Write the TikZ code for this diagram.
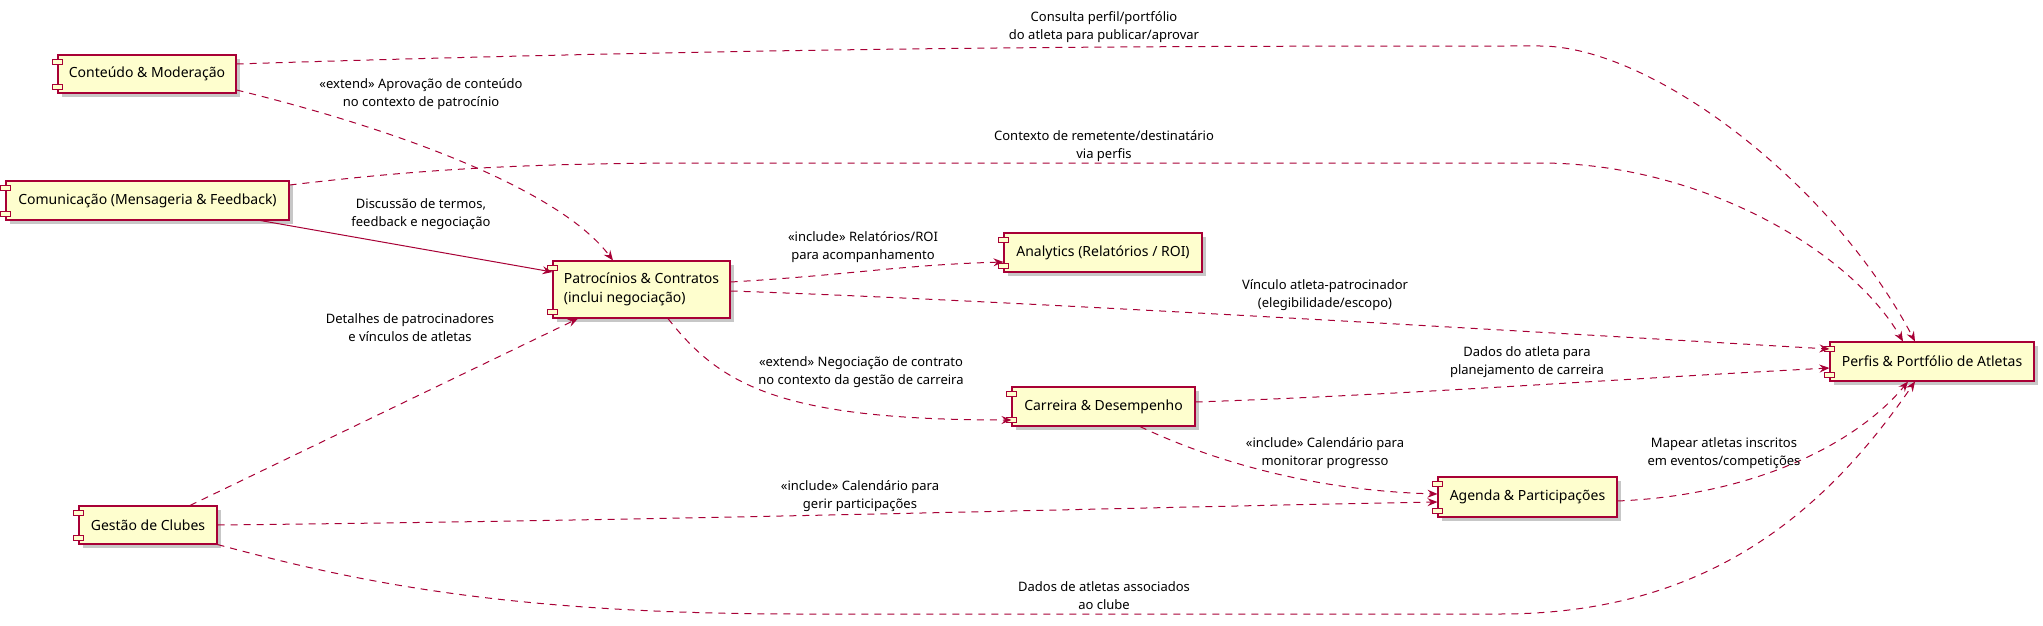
\documentclass[tikz,border=0pt]{standalone}
\usepackage{fontspec}
\setmainfont{Noto Sans}
\usetikzlibrary{arrows.meta,shadows}
\definecolor{bord}{HTML}{A80036}
\definecolor{fillc}{HTML}{FEFECE}
\newcommand\comptabs[1]{%
  \draw[tabst] ([xshift=-5pt,yshift=-5pt]#1.north west) rectangle ([xshift=5pt,yshift=-10pt]#1.north west);
  \draw[tabst] ([xshift=-5pt,yshift=4pt]#1.south west) rectangle ([xshift=5pt,yshift=9pt]#1.south west);}
\begin{document}
\begin{tikzpicture}[x=1pt,y=-1pt,
  comp/.style={draw=bord, fill=fillc, line width=1.1pt, inner sep=0pt,
    font=\fontsize{14}{19}\selectfont,
    drop shadow={shadow xshift=4pt, shadow yshift=-4pt, fill=black, opacity=0.22}},
  tabst/.style={draw=bord, fill=fillc, line width=1pt},
  lbl/.style={font=\fontsize{13}{18}\selectfont, align=center, inner sep=0pt},
  dep/.style={draw=bord, line width=1pt, dash pattern=on 7pt off 6pt,
    -{Stealth[length=10pt,width=8pt,inset=3.5pt]}},
  sol/.style={draw=bord, line width=1pt,
    -{Stealth[length=10pt,width=8pt,inset=3.5pt]}}]
\useasboundingbox (0,0) rectangle (2043,626);
\fill[white] (0,0) rectangle (2043,626);

% components
\node[comp, minimum width=178pt, minimum height=38pt] (cont) at (147,74) {Conteúdo \& Moderação};
\node[comp, minimum width=283pt, minimum height=39pt] (comu) at (147.5,200.5) {Comunicação (Mensageria \& Feedback)};
\node[comp, minimum width=177pt, minimum height=57pt, align=left] (patr) at (641.5,289.5) {Patrocínios \& Contratos\\(inclui negociação)};
\node[comp, minimum width=198pt, minimum height=39pt] (anal) at (1103,252.5) {Analytics (Relatórios / ROI)};
\node[comp, minimum width=183pt, minimum height=39pt] (carr) at (1103.5,406.5) {Carreira \& Desempenho};
\node[comp, minimum width=204pt, minimum height=39pt] (perf) at (1932,361.5) {Perfis \& Portfólio de Atletas};
\node[comp, minimum width=179pt, minimum height=40pt] (agen) at (1527.5,497) {Agenda \& Participações};
\node[comp, minimum width=138pt, minimum height=38pt] (gest) at (148,525) {Gestão de Clubes};
\comptabs{cont}\comptabs{comu}\comptabs{patr}\comptabs{anal}
\comptabs{carr}\comptabs{perf}\comptabs{agen}\comptabs{gest}

% connectors
\draw[dep] ([yshift=10pt]cont.east) .. controls (800,46) and (1200,46) .. (1540,46)
  .. controls (1650,46) and (1830,180) .. ([xshift=-17pt]perf.north);
\draw[dep] ([yshift=-16pt]cont.east) .. controls (400,130) and (560,190) .. ([xshift=-28.5pt]patr.north);
\draw[dep] ([yshift=15.5pt]comu.east) .. controls (400,172) and (500,163) .. (700,163) -- (1540,163)
  .. controls (1700,163) and (1850,250) .. ([xshift=-29pt]perf.north);
\draw[sol] ([xshift=-29pt]comu.south east) -- ([yshift=17.5pt]patr.west);
\draw[dep] ([yshift=7.5pt]patr.east) .. controls (850,275) and (900,265) .. ([yshift=-9.5pt]anal.west);
\draw[dep] ([yshift=-1.5pt]patr.east) .. controls (1000,300) and (1500,330) .. ([yshift=12.5pt]perf.west);
\draw[dep] ([xshift=26.5pt]patr.south) .. controls (720,385) and (780,420) .. ([yshift=-13.5pt]carr.west);
\draw[dep] ([yshift=4.5pt]carr.east) .. controls (1400,395) and (1600,380) .. ([yshift=-6.5pt]perf.west);
\draw[dep] ([xshift=36.5pt]carr.south) .. controls (1200,455) and (1300,490) .. ([yshift=3pt]agen.west);
\draw[dep] (gest.east) .. controls (700,520) and (1100,508) .. ([yshift=-5pt]agen.west);
\draw[dep] ([yshift=-4pt]agen.east) .. controls (1760,495) and (1860,440) .. ([xshift=-24pt]perf.south);
\draw[dep] (gest.south east) .. controls (350,580) and (500,614) .. (800,614) -- (1500,614)
  .. controls (1700,614) and (1820,520) .. ([xshift=-17pt]perf.south);
\draw[dep] ([xshift=42pt]gest.north) -- ([xshift=-63.5pt]patr.south);

% labels
\node[lbl] (la) at (1104,27) {Consulta perfil/portfólio\\do atleta para publicar/aprovar};
\node[lbl] (lb) at (421,94) {«extend» Aprovação de conteúdo\\no contexto de patrocínio};
\node[lbl] (lc) at (1104,146) {Contexto de remetente/destinatário\\via perfis};
\node[lbl] (ld) at (421,214) {Discussão de termos,\\feedback e negociação};
\node[lbl] (le) at (863,247) {«include» Relatórios/ROI\\para acompanhamento};
\node[lbl] (lf) at (1325,295.5) {Vínculo atleta-patrocinador\\(elegibilidade/escopo)};
\node[lbl] (lg) at (861,372) {«extend» Negociação de contrato\\no contexto da gestão de carreira};
\node[lbl] (lh) at (1527,362.5) {Dados do atleta para\\planejamento de carreira};
\node[lbl] (li) at (1325,453) {«include» Calendário para\\monitorar progresso};
\node[lbl] (lj) at (860,496) {«include» Calendário para\\gerir participações};
\node[lbl] (lk) at (1724,453) {Mapear atletas inscritos\\em eventos/competições};
\node[lbl] (ll) at (1104,596) {Dados de atletas associados\\ao clube};
\node[lbl] (lm) at (410,328) {Detalhes de patrocinadores\\e vínculos de atletas};
\end{tikzpicture}
\end{document}
